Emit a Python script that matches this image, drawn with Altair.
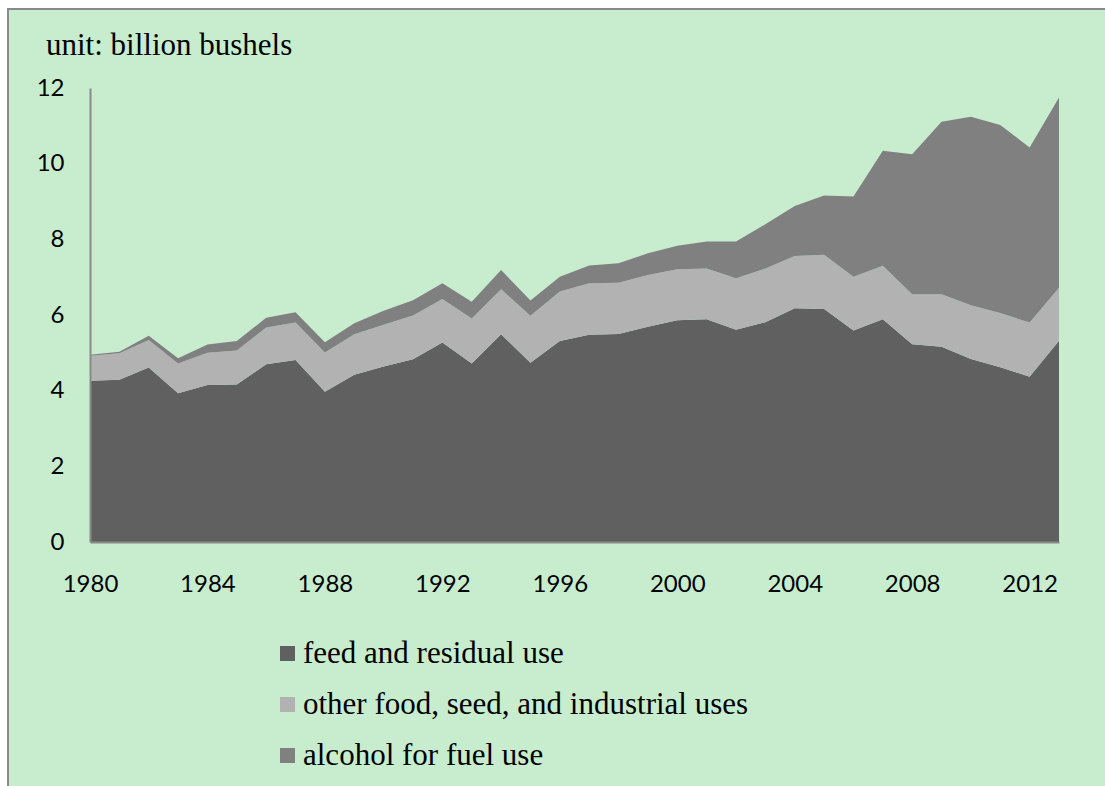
import altair as alt
import pandas as pd

# Corn use by category, billion bushels
years = list(range(1980, 2014))
feed_residual = [4.26, 4.29, 4.61, 3.93, 4.15, 4.16, 4.70, 4.81, 3.97, 4.42,
                 4.64, 4.83, 5.27, 4.72, 5.49, 4.74, 5.31, 5.48, 5.50, 5.69,
                 5.86, 5.89, 5.61, 5.81, 6.18, 6.16, 5.59, 5.89, 5.23, 5.16,
                 4.84, 4.62, 4.37, 5.32]
other_fsi = [0.66, 0.70, 0.73, 0.79, 0.85, 0.90, 0.97, 0.99, 1.04, 1.07,
             1.10, 1.16, 1.15, 1.19, 1.19, 1.24, 1.31, 1.36, 1.35, 1.37,
             1.35, 1.34, 1.36, 1.42, 1.38, 1.43, 1.42, 1.41, 1.32, 1.39,
             1.42, 1.43, 1.43, 1.40]
alcohol_fuel = [0.03, 0.04, 0.11, 0.14, 0.22, 0.25, 0.26, 0.27, 0.27, 0.29,
                0.37, 0.40, 0.42, 0.44, 0.51, 0.40, 0.39, 0.47, 0.52, 0.57,
                0.62, 0.71, 0.97, 1.17, 1.32, 1.57, 2.12, 3.04, 3.70, 4.56,
                4.98, 4.97, 4.63, 5.03]

series_names = ["feed and residual use",
                "other food, seed, and industrial uses",
                "alcohol for fuel use"]
series_colors = ["#606060", "#b2b2b2", "#808080"]
year_ticks = list(range(1980, 2013, 4))
value_ticks = [0, 2, 4, 6, 8, 10, 12]

rows = []
for k, (name, vals) in enumerate(zip(series_names, [feed_residual, other_fsi, alcohol_fuel])):
    for yr, v in zip(years, vals):
        rows.append({"year": yr, "use": name, "value": v, "k": k})
df = pd.DataFrame(rows)

W, H = 969, 454
PAD_L, PAD_T = 90, 88
serif = "Liberation Serif"
sans = "Lato"

# Panel background with a thin frame on its left and top edges
frame = alt.Chart(pd.DataFrame({"a": [0]})).mark_rect(
    fill="#c7edce", stroke="#8a8a8a", strokeWidth=2
).encode(
    x=alt.value(-82), x2=alt.value(1200 - PAD_L),
    y=alt.value(-79), y2=alt.value(900 - PAD_T),
)

areas = alt.Chart(df).mark_area(interpolate="linear").encode(
    x=alt.X("year:Q",
            scale=alt.Scale(domain=[1980, 2013], nice=False, zero=False),
            axis=alt.Axis(values=year_ticks, format="d", title=None,
                          ticks=False, grid=False, labelFlush=False, zindex=2,
                          domainColor="#8a8a8a", domainWidth=2,
                          labelFont=sans, labelFontSize=24, labelColor="#000000",
                          labelPadding=30)),
    y=alt.Y("value:Q", stack="zero",
            scale=alt.Scale(domain=[0, 12], nice=False),
            axis=alt.Axis(values=value_ticks, title=None, ticks=False, grid=False,
                          zindex=2,
                          domainColor="#8a8a8a", domainWidth=2,
                          labelFont=sans, labelFontSize=24, labelColor="#000000",
                          labelPadding=26)),
    color=alt.Color("use:N",
                    scale=alt.Scale(domain=series_names, range=series_colors),
                    legend=alt.Legend(orient="none", legendX=182, legendY=550,
                                      title=None, symbolType="square",
                                      symbolSize=225, symbolStrokeWidth=0,
                                      symbolOpacity=1, zindex=2,
                                      labelFont=serif, labelFontSize=31,
                                      labelColor="#000000", labelOffset=0,
                                      rowPadding=19, labelLimit=600)),
    order=alt.Order("k:Q", sort="ascending"),
)

chart = alt.layer(frame, areas).properties(
    width=W, height=H,
    autosize=alt.AutoSizeParams(type="none"),
    padding={"left": PAD_L, "top": PAD_T, "right": 1105 - PAD_L - W,
             "bottom": 786 - PAD_T - H},
    background="#ffffff",
    title=alt.TitleParams("unit: billion bushels", anchor="start", frame="group",
                          font=serif, fontSize=31, fontWeight="normal",
                          color="#000000", dx=-44, offset=18, dy=72, zindex=2),
).configure_view(stroke=None)

chart.save("out.html", embed_options={"renderer": "svg", "actions": False})
